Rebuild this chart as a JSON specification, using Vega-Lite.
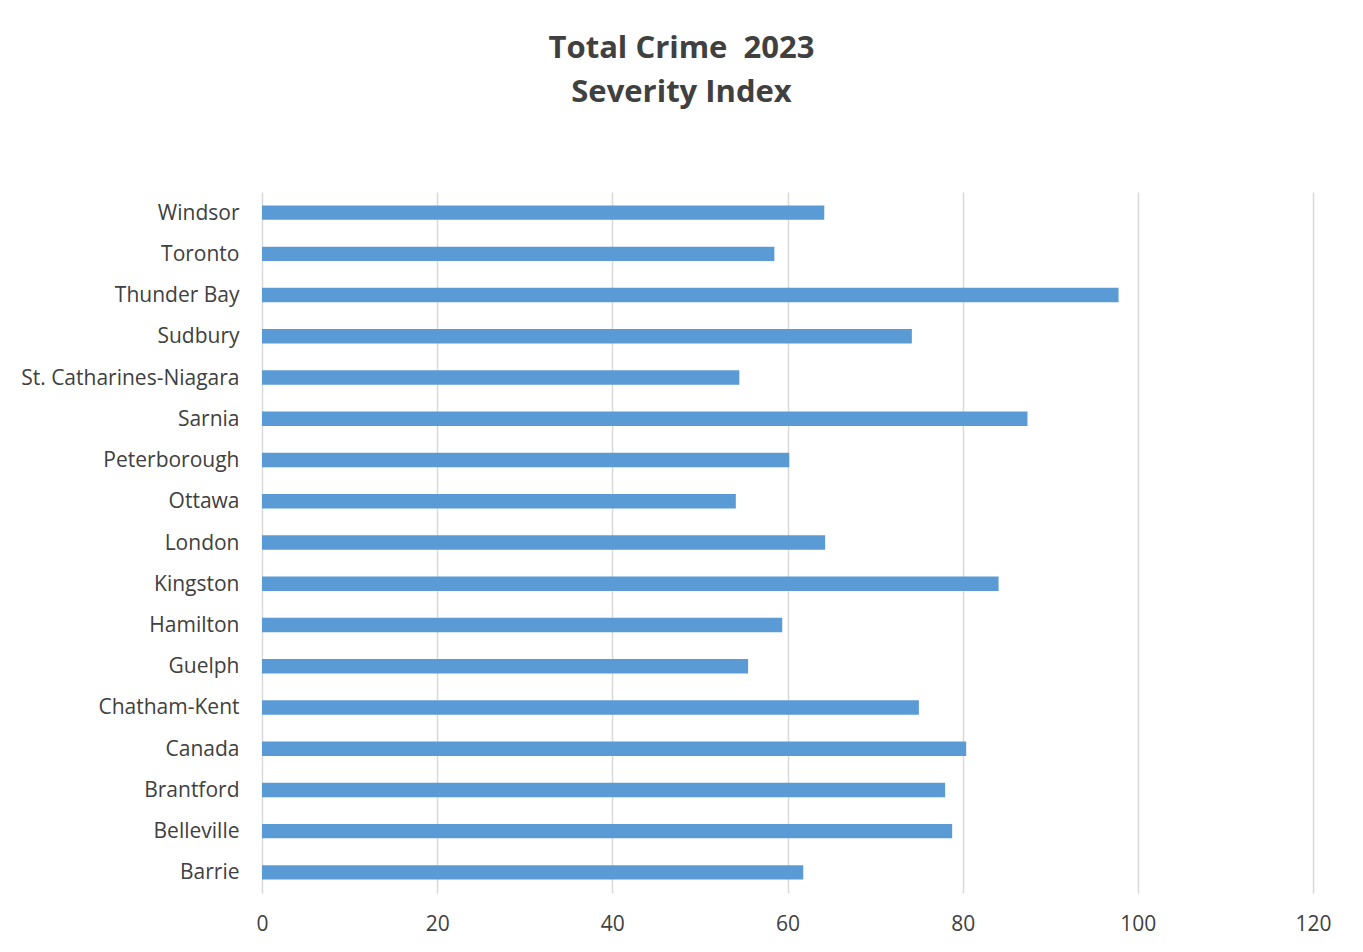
{
  "$schema": "https://vega.github.io/schema/vega-lite/v6.json",
  "width": 1051,
  "height": 701,
  "autosize": {"type": "none"},
  "padding": {"left": 262, "top": 192, "right": 50, "bottom": 59},
  "background": "white",
  "title": {
    "text": ["Total Crime \u00a02023", "Severity Index"],
    "font": "Open Sans",
    "fontSize": 31,
    "fontWeight": "bold",
    "color": "#404040",
    "anchor": "middle",
    "dx": -106,
    "offset": 83,
    "lineHeight": 44
  },
  "data": {
    "values": [
      {"city": "Windsor", "value": 64.2},
      {"city": "Toronto", "value": 58.5},
      {"city": "Thunder Bay", "value": 97.8},
      {"city": "Sudbury", "value": 74.2},
      {"city": "St. Catharines-Niagara", "value": 54.5},
      {"city": "Sarnia", "value": 87.4},
      {"city": "Peterborough", "value": 60.2},
      {"city": "Ottawa", "value": 54.1},
      {"city": "London", "value": 64.3},
      {"city": "Kingston", "value": 84.1},
      {"city": "Hamilton", "value": 59.4},
      {"city": "Guelph", "value": 55.5},
      {"city": "Chatham-Kent", "value": 75.0},
      {"city": "Canada", "value": 80.4},
      {"city": "Brantford", "value": 78.0},
      {"city": "Belleville", "value": 78.8},
      {"city": "Barrie", "value": 61.8}
    ]
  },
  "mark": {"type": "bar", "color": "#5B9BD5"},
  "encoding": {
    "y": {
      "field": "city",
      "type": "nominal",
      "sort": null,
      "scale": {"paddingInner": 0.65, "paddingOuter": 0.325},
      "axis": {
        "title": null,
        "domain": false,
        "ticks": false,
        "labelPadding": 23,
        "labelOffset": 1,
        "labelFont": "Open Sans",
        "labelFontSize": 21,
        "labelColor": "#404040",
        "labelLimit": 400
      }
    },
    "x": {
      "field": "value",
      "type": "quantitative",
      "scale": {"domain": [0, 120], "nice": false},
      "axis": {
        "title": null,
        "values": [0, 20, 40, 60, 80, 100, 120],
        "domain": false,
        "ticks": false,
        "grid": true,
        "gridColor": "#D9D9D9",
        "gridWidth": 1.5,
        "labelFlush": false,
        "labelPadding": 20,
        "labelFont": "Open Sans",
        "labelFontSize": 21,
        "labelColor": "#404040"
      }
    }
  },
  "config": {"view": {"stroke": null}}
}
